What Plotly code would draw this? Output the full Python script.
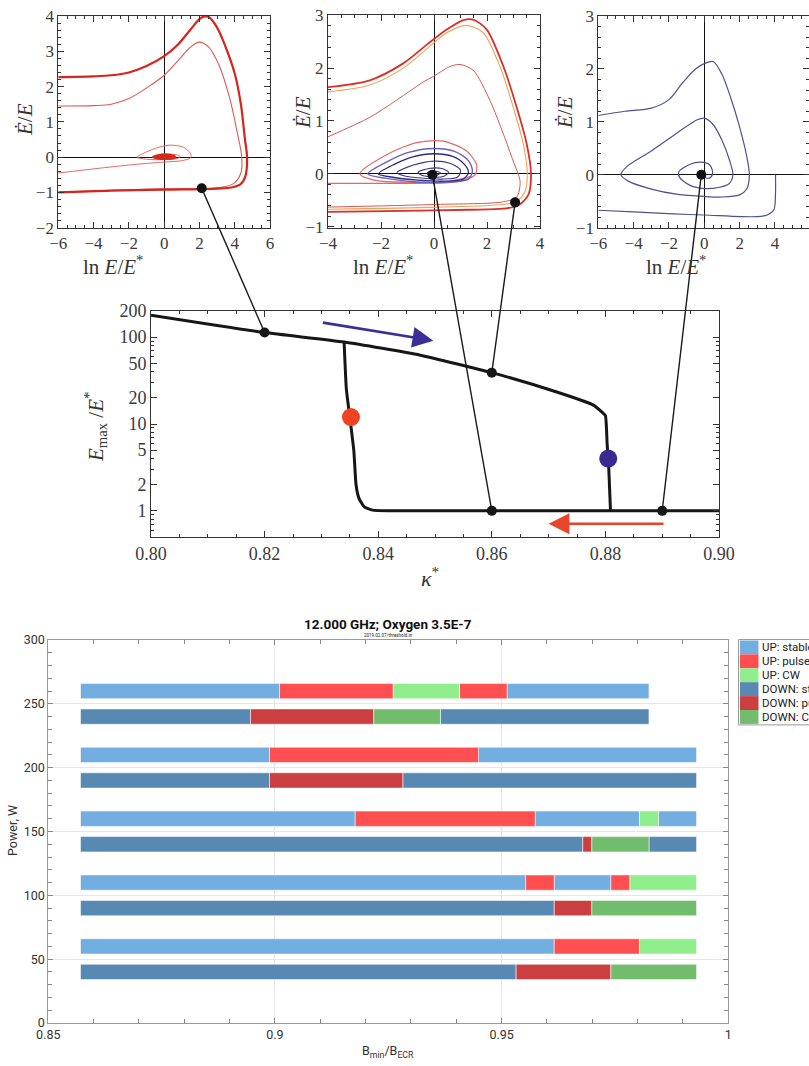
import math
import plotly.graph_objects as go

W, H = 809, 1066

# ---------------- phase portrait 1 (kappa* = 0.82) ----------------
p1_outer_x = [-6, -4, -3, -2, -1, 0, 0.8, 1.5, 2.1, 2.5, 2.98, 3.5, 4.0, 4.35, 4.58, 4.7, 4.6, 4.3, 3.8, 3, 0, -3, -6]
p1_outer_y = [2.27, 2.29, 2.32, 2.4, 2.58, 2.86, 3.2, 3.62, 3.95, 3.98, 3.69, 3.1, 2.37, 1.5, 0.5, 0, -0.55, -0.78, -0.86, -0.89, -0.92, -0.95, -1.0]
p1_mid_x = [-6, -4, -3, -2, -1, 0, 0.9, 1.5, 2.0, 2.5, 3.1, 3.7, 4.15, 4.4, 4.35, 3.93, 2.98, 0, -3, -6]
p1_mid_y = [1.45, 1.46, 1.5, 1.66, 1.96, 2.32, 2.8, 3.12, 3.26, 3.13, 2.62, 1.7, 0.68, 0, -0.45, -0.75, -0.87, -0.9, -0.94, -0.99]
p1_loop_x = [-6, -3.6, -1.5, 0, 1.0, 1.5, 1.5, 1.1, 0.3, -0.5, -1.2, -1.55, -1.0, 0, 0.8, 0.9, 0.5, -0.3, -0.5, 0, 0.4]
p1_loop_y = [-0.45, -0.31, -0.2, -0.14, -0.1, -0.02, 0.1, 0.28, 0.34, 0.25, 0.1, 0.0, -0.06, -0.07, -0.03, 0.03, 0.08, 0.06, 0.0, -0.03, 0.0]
p1_core_x = [-0.65, -0.3, 0.2, 0.6, 0.65, 0.2, -0.3, -0.65]
p1_core_y = [0.0, 0.07, 0.08, 0.03, -0.02, -0.06, -0.05, 0.0]

# ---------------- phase portrait 2 (kappa* = 0.86) ----------------
p2_outer_x = [-4, -2.42, -1.16, -0.28, 0.48, 1.11, 1.48, 1.99, 2.62, 3.12, 3.5, 3.66, 3.56, 3.18, 2.62, 1.36, -1.16, -4]
p2_outer_y = [1.64, 1.77, 2.09, 2.44, 2.73, 2.91, 2.92, 2.73, 2.03, 1.26, 0.56, 0, -0.4, -0.6, -0.66, -0.68, -0.7, -0.72]
p2_second_x = [-4, -2.42, -1.16, -0.28, 0.48, 1.23, 1.86, 2.49, 2.99, 3.37, 3.52, 3.43, 3.12, 2.62, 0.1, -4]
p2_second_y = [1.55, 1.68, 2.0, 2.36, 2.67, 2.81, 2.67, 2.03, 1.26, 0.56, 0, -0.34, -0.52, -0.58, -0.63, -0.67]
p2_third_x = [-4, -2.42, -1.16, -0.4, 0, 0.6, 0.98, 1.48, 2.11, 2.62, 2.99, 3.25, 3.12, 2.62, 0.1, -4]
p2_third_y = [0.70, 1.07, 1.48, 1.74, 1.85, 2.03, 2.07, 1.96, 1.39, 0.75, 0.24, -0.15, -0.44, -0.53, -0.58, -0.63]
p2_redloop_x = [-4, -2.42, -0.53, 0.86, 1.55, 1.61, 1.23, 0.35, -0.65, -1.79, -2.79, -2.16, -1.0, 0.5, 1.4]
p2_redloop_y = [-0.18, -0.18, -0.18, -0.15, -0.02, 0.17, 0.43, 0.62, 0.59, 0.36, 0, -0.13, -0.16, -0.15, -0.05]
p2_l1_x = [-2.5, -1.8, -1.0, 0, 0.8, 1.3, 1.45, 1.3, 0.6, -0.5, -1.6, -2.5]
p2_l1_y = [0, 0.22, 0.4, 0.48, 0.42, 0.25, 0.05, -0.1, -0.16, -0.16, -0.1, 0]
p2_l2_x = [-2.1, -1.5, -0.8, 0, 0.7, 1.15, 1.3, 1.1, 0.4, -0.6, -1.5, -2.1]
p2_l2_y = [0, 0.18, 0.32, 0.38, 0.33, 0.18, 0.02, -0.1, -0.14, -0.12, -0.07, 0]
p2_l3_x = [-1.4, -0.8, 0, 0.6, 1.0, 0.9, 0.3, -0.5, -1.1, -1.4]
p2_l3_y = [0.02, 0.16, 0.24, 0.2, 0.07, -0.06, -0.1, -0.08, -0.04, 0.02]
p2_l4_x = [-0.6, -0.2, 0.3, 0.55, 0.35, -0.1, -0.5, -0.6]
p2_l4_y = [0.03, 0.1, 0.1, 0.03, -0.05, -0.06, -0.02, 0.03]
p2_l5_x = [-0.25, 0, 0.25, 0.1, -0.2, -0.25]
p2_l5_y = [0.02, 0.05, 0.02, -0.03, -0.02, 0.02]

# ---------------- phase portrait 3 (kappa* = 0.89) ----------------
p3_spiral_x = [-6, -4.5, -3, -2, -1.2, -0.5, 0, 0.5, 1.0, 1.5, 2.0, 2.4, 2.55, 2.4, 2.0, 1.0, 0, -1.5, -3, -4.3, -4.72,
               -4.4, -3, -1.5, -0.4, 0, 0.5, 1.0, 1.45, 1.62, 1.4, 0.8, 0, -0.8, -1.4, -1.45, -0.8, -0.2, 0.3, 0.47,
               0.35, 0.1, -0.1]
p3_spiral_y = [1.12, 1.2, 1.26, 1.42, 1.75, 2.0, 2.1, 2.14, 1.9, 1.45, 0.9, 0.35, 0.0, -0.27, -0.38, -0.42, -0.41, -0.37,
               -0.27, -0.12, 0, 0.15, 0.45, 0.8, 1.04, 1.07, 0.95, 0.65, 0.25, 0.0, -0.17, -0.24, -0.26, -0.2, -0.05,
               0.05, 0.2, 0.24, 0.19, 0.05, -0.05, -0.06, 0]
p3_bottom_x = [-6, -4, -1.74, 0, 2.05, 3, 3.56, 3.94, 4.03, 4.03]
p3_bottom_y = [-0.67, -0.7, -0.74, -0.76, -0.79, -0.79, -0.76, -0.66, -0.35, 0]

# ---------------- bifurcation diagram ----------------
upper_k = [0.800, 0.820, 0.834, 0.8474, 0.860, 0.8713, 0.8779, 0.8795, 0.8800, 0.8803, 0.8806, 0.8809]
upper_E = [179, 113, 88, 62, 39, 23.5, 16.5, 13.5, 12.5, 6, 3, 1.0]
lower_k = [0.834, 0.8344, 0.8350, 0.8357, 0.8361, 0.8366, 0.8375, 0.8390, 0.8420, 0.9000]
lower_E = [88, 25, 12, 5, 2, 1.4, 1.12, 1.02, 1.0, 1.0]
dots_k = [0.82, 0.86, 0.86, 0.89]
dots_E = [113, 39, 1, 1]
red_dot = (0.8352, 12)
blue_dot = (0.8805, 4.0)
blue_arrow = [(0.830, 148), (0.8497, 91)]
red_arrow = [(0.8905, 0.71), (0.8700, 0.71)]

# connections: (panel, x, y) -> (kappa, E)
link_panel = ["1", "2", "2", "3"]
link_x = [2.13, -0.06, 3.06, -0.17]
link_y = [-0.88, -0.02, -0.54, 0.0]
link_k = [0.82, 0.86, 0.86, 0.89]
link_E = [113, 1, 39, 1]

# ---------------- threshold bars ----------------
up_power = [260, 210, 160, 110, 60]
down_power = [240, 190, 140, 90, 40]
up_bounds = [
    [0.8571, 0.9010, 0.9261, 0.9407, 0.9512, 0.9825],
    [0.8571, 0.8988, 0.9449, 0.9930],
    [0.8571, 0.9177, 0.9574, 0.9804, 0.9846, 0.9930],
    [0.8571, 0.9553, 0.9616, 0.9741, 0.9783, 0.9930],
    [0.8571, 0.9616, 0.9804, 0.9930],
]
up_states = [
    ["stable", "pulsed", "CW", "pulsed", "stable"],
    ["stable", "pulsed", "stable"],
    ["stable", "pulsed", "stable", "CW", "stable"],
    ["stable", "pulsed", "stable", "pulsed", "CW"],
    ["stable", "pulsed", "CW"],
]
down_bounds = [
    [0.8571, 0.8946, 0.9218, 0.9365, 0.9825],
    [0.8571, 0.8988, 0.9282, 0.9930],
    [0.8571, 0.9679, 0.9699, 0.9825, 0.9930],
    [0.8571, 0.9616, 0.9699, 0.9930],
    [0.8571, 0.9532, 0.9741, 0.9930],
]
down_states = [
    ["stable", "pulsed", "CW", "stable"],
    ["stable", "pulsed", "stable"],
    ["stable", "pulsed", "CW", "stable"],
    ["stable", "pulsed", "CW"],
    ["stable", "pulsed", "CW"],
]
state_names = ["stable", "pulsed", "CW"]
up_colors = {"stable": "#72aee0", "pulsed": "#ff4f51", "CW": "#90ee8c"}
down_colors = {"stable": "#5789b2", "pulsed": "#cc3f41", "CW": "#72bc6e"}

fig = go.Figure()


def line(x, y, ax, color, width, fill=None, smoothing=0.8):
    fig.add_trace(go.Scatter(
        x=x, y=y, mode="lines", xaxis="x" + ax, yaxis="y" + ax,
        line=dict(color=color, width=width, shape="spline", smoothing=smoothing),
        fill=fill, fillcolor=color if fill else None,
        showlegend=False, hoverinfo="skip"))


# panel 1
line(p1_loop_x, p1_loop_y, "", "#e36a62", 1.0)
line(p1_core_x, p1_core_y, "", "#d8281e", 1.5, fill="toself")
line(p1_mid_x, p1_mid_y, "", "#e05a52", 1.1, smoothing=1.0)
line(p1_outer_x, p1_outer_y, "", "#d4261c", 2.2, smoothing=1.0)
fig.add_trace(go.Scatter(x=[link_x[0]], y=[link_y[0]], mode="markers", xaxis="x", yaxis="y",
                         marker=dict(color="#111", size=10), showlegend=False, hoverinfo="skip"))

# panel 2
line(p2_third_x, p2_third_y, "2", "#d25a55", 1.0)
line(p2_second_x, p2_second_y, "2", "#eca35c", 1.1)
line(p2_outer_x, p2_outer_y, "2", "#d8302a", 1.8)
line(p2_redloop_x, p2_redloop_y, "2", "#e06a66", 1.2)
line(p2_l1_x, p2_l1_y, "2", "#6a62b8", 1.4)
line(p2_l2_x, p2_l2_y, "2", "#2c2a80", 1.3)
line(p2_l3_x, p2_l3_y, "2", "#3a3a8a", 1.1)
line(p2_l4_x, p2_l4_y, "2", "#3a3a8a", 1.1)
line(p2_l5_x, p2_l5_y, "2", "#3a3a8a", 1.1)
fig.add_trace(go.Scatter(x=link_x[1:3], y=link_y[1:3], mode="markers", xaxis="x2", yaxis="y2",
                         marker=dict(color="#111", size=10), showlegend=False, hoverinfo="skip"))

# panel 3
line(p3_spiral_x, p3_spiral_y, "3", "#50508e", 1.2)
line(p3_bottom_x, p3_bottom_y, "3", "#50508e", 1.2)
fig.add_trace(go.Scatter(x=[link_x[3]], y=[link_y[3]], mode="markers", xaxis="x3", yaxis="y3",
                         marker=dict(color="#111", size=10), showlegend=False, hoverinfo="skip"))

# bifurcation diagram
for kk, ee in ((upper_k, upper_E), (lower_k, lower_E)):
    fig.add_trace(go.Scatter(x=kk, y=ee, mode="lines", xaxis="x4", yaxis="y4",
                             line=dict(color="#161616", width=3, shape="spline", smoothing=0.5),
                             showlegend=False, hoverinfo="skip"))
fig.add_trace(go.Scatter(x=dots_k, y=dots_E, mode="markers", xaxis="x4", yaxis="y4",
                         marker=dict(color="#161616", size=10), showlegend=False, hoverinfo="skip"))
fig.add_trace(go.Scatter(x=[red_dot[0]], y=[red_dot[1]], mode="markers", xaxis="x4", yaxis="y4",
                         marker=dict(color="#ee4422", size=18), showlegend=False, hoverinfo="skip"))
fig.add_trace(go.Scatter(x=[blue_dot[0]], y=[blue_dot[1]], mode="markers", xaxis="x4", yaxis="y4",
                         marker=dict(color="#3a2a90", size=18), showlegend=False, hoverinfo="skip"))

# bars
for direction, powers, bounds, states, colors in (
        ("UP", up_power, up_bounds, up_states, up_colors),
        ("DOWN", down_power, down_bounds, down_states, down_colors)):
    for st in state_names:
        ys, bases, lens = [], [], []
        for p, b, s in zip(powers, bounds, states):
            for i, name in enumerate(s):
                if name == st:
                    ys.append(p)
                    bases.append(b[i])
                    lens.append(b[i + 1] - b[i])
        fig.add_trace(go.Bar(
            y=ys, x=lens, base=bases, orientation="h", width=12,
            xaxis="x5", yaxis="y5", name=f"{direction}: {st}",
            marker=dict(color=colors[st], line=dict(color="rgba(255,255,255,0.55)", width=1)),
            showlegend=False))


def dx(a, b):
    return [a / W, min(b / W, 1.0)]


def dy(top, bottom):
    return [1 - bottom / H, 1 - top / H]


serif = "Liberation Serif"
sans = "Roboto"


def frame_axis(domain, rng, dtick, mdtick, anchor, size=17):
    return dict(domain=domain, range=rng, anchor=anchor, tick0=0, dtick=dtick,
                ticks="inside", ticklen=6, tickwidth=1, tickcolor="#333",
                showline=True, linecolor="#333", linewidth=1, mirror="ticks",
                showgrid=False, zeroline=True, zerolinecolor="#111", zerolinewidth=1.1,
                minor=dict(ticks="inside", dtick=mdtick, ticklen=3, tickcolor="#333", showgrid=False),
                tickfont=dict(family=serif, size=size, color="#3a3a3a"))


P_TOP, P_BOT = 16.0, 227.7
p3_right = -6 + (W - 598.3) / (212.0 / 12.0)

fig.update_layout(
    width=W, height=H, margin=dict(l=0, r=0, t=0, b=0, autoexpand=False),
    paper_bgcolor="white", plot_bgcolor="white", showlegend=False, barmode="overlay",
    xaxis=frame_axis(dx(58.3, 270.0), [-6, 6], 2, 0.5, "y"),
    yaxis=frame_axis(dy(P_TOP, P_BOT), [-2, 4], 1, 0.2, "x"),
    xaxis2=frame_axis(dx(328.0, 540.0), [-4, 4], 2, 0.5, "y2"),
    yaxis2=frame_axis(dy(15.3, P_BOT), [-1.02, 3], 1, 0.2, "x2"),
    xaxis3=frame_axis(dx(598.3, 810.0), [-6, p3_right], 2, 0.5, "y3"),
    yaxis3=frame_axis(dy(P_TOP, P_BOT), [-1, 3], 1, 0.2, "x3"),
)

fig.layout.xaxis4 = dict(
    domain=dx(151, 719), range=[0.80, 0.90], anchor="y4", tick0=0.8, dtick=0.02, tickformat=".2f",
    ticks="inside", ticklen=6, tickcolor="#333", showline=True, linecolor="#333", mirror="ticks",
    showgrid=False, zeroline=False,
    minor=dict(ticks="inside", dtick=0.005, ticklen=3, tickcolor="#333", showgrid=False),
    tickfont=dict(family=serif, size=18, color="#3a3a3a"))
fig.layout.yaxis4 = dict(
    domain=dy(311, 537), type="log", range=[math.log10(0.5), math.log10(200)], anchor="x4",
    tickmode="array", tickvals=[1, 2, 5, 10, 20, 50, 100, 200],
    ticktext=["1", "2", "5", "10", "20", "50", "100", "200"],
    ticks="inside", ticklen=6, tickcolor="#333", showline=True, linecolor="#333", mirror="ticks",
    showgrid=False, zeroline=False,
    minor=dict(ticks="inside", tickmode="array",
               tickvals=[0.6, 0.7, 0.8, 0.9, 3, 4, 6, 7, 8, 9, 30, 40, 60, 70, 80, 90],
               ticklen=3, tickcolor="#333", showgrid=False),
    tickfont=dict(family=serif, size=18, color="#3a3a3a"))

fig.layout.xaxis5 = dict(
    domain=dx(48.3, 728.3), range=[0.85, 1.0], anchor="y5",
    tickmode="array", tickvals=[0.85, 0.9, 0.95, 1.0], ticktext=["0.85", "0.9", "0.95", "1"],
    ticks="inside", ticklen=5, tickcolor="#888", showline=True, linecolor="#999", mirror="ticks",
    showgrid=True, gridcolor="#e6e6e6", zeroline=False,
    minor=dict(ticks="inside", dtick=0.01, tick0=0.85, ticklen=4, tickcolor="#888", showgrid=False),
    tickfont=dict(family=sans, size=12.5, color="#333"))
fig.layout.yaxis5 = dict(
    domain=dy(640, 1023), range=[0, 300], anchor="x5", dtick=50,
    ticks="inside", ticklen=5, tickcolor="#888", showline=True, linecolor="#999", mirror="ticks",
    showgrid=True, gridcolor="#e6e6e6", zeroline=False,
    minor=dict(ticks="inside", dtick=10, ticklen=4, tickcolor="#888", showgrid=False),
    tickfont=dict(family=sans, size=12.5, color="#333"))


def to_paper(ax, x, y):
    xa = fig.layout["xaxis" + ax]
    ya = fig.layout["yaxis" + ax]
    if ya.type == "log":
        y = math.log10(y)
    px = xa.domain[0] + (x - xa.range[0]) / (xa.range[1] - xa.range[0]) * (xa.domain[1] - xa.domain[0])
    py = ya.domain[0] + (y - ya.range[0]) / (ya.range[1] - ya.range[0]) * (ya.domain[1] - ya.domain[0])
    return px, py


shapes = []
for pan, x0, y0, k1, e1 in zip(link_panel, link_x, link_y, link_k, link_E):
    a = to_paper("" if pan == "1" else pan, x0, y0)
    b = to_paper("4", k1, e1)
    shapes.append(dict(type="line", xref="paper", yref="paper", x0=a[0], y0=a[1], x1=b[0], y1=b[1],
                       line=dict(color="#1a1a1a", width=1.4), layer="above"))

annotations = []


def ann(text, px, py, size, family=serif, color="#333", angle=0, xanchor="center"):
    annotations.append(dict(text=text, x=px / W, y=1 - py / H, xref="paper", yref="paper",
                            showarrow=False, textangle=angle, xanchor=xanchor, yanchor="middle",
                            font=dict(family=family, size=size, color=color)))


xt = "ln <i>E</i>/<i>E</i><sup>*</sup>"
yt = "<i>E\u0307</i>/<i>E</i>"
for cx, cy in ((113, 266), (383, 266), (676, 266)):
    ann(xt, cx, cy, 21)
for cx, cy in ((25, 120), (303, 113), (565, 113)):
    ann(yt, cx, cy, 21, angle=-90)
ann("<i>κ</i><sup>*</sup>", 430, 577, 22)
ann("<i>E</i><sub>max</sub> /<i>E</i><sup>*</sup>", 95, 427, 21, angle=-90)

ann("<b>12.000 GHz; Oxygen 3.5E-7</b>", 388, 623.5, 13.5, family=sans, color="#111")
ann("2019.02.07/threshold.in", 388, 635, 4.5, family=sans, color="#222")
ann("Power, W", 12, 831, 12.5, family=sans, color="#333", angle=-90)
ann("B<sub>min</sub>/B<sub>ECR</sub>", 388, 1051, 12.5, family=sans, color="#333")

# arrows in the bifurcation diagram
for (t, h), col in ((blue_arrow, "#3b2f96"), (red_arrow, "#e8452a")):
    annotations.append(dict(x=h[0], y=math.log10(h[1]), ax=t[0], ay=math.log10(t[1]),
                            xref="x4", yref="y4", axref="x4", ayref="y4", text="",
                            showarrow=True, arrowhead=2, arrowsize=1.6, arrowwidth=2.6, arrowcolor=col))

# legend box for the bars (drawn from the trace names/colours)
leg_top, row_h, leg_left = 640.5, 13.9, 738.5
legend_items = [("UP: " + s, up_colors[s]) for s in state_names] + [("DOWN: " + s, down_colors[s]) for s in state_names]
shapes.append(dict(type="rect", xref="paper", yref="paper", x0=leg_left / W, x1=1.02,
                   y0=1 - (leg_top + row_h * 6 + 1) / H, y1=1 - (leg_top - 1) / H,
                   line=dict(color="#9a9a9a", width=1), fillcolor="white", layer="above"))
for i, (name, col) in enumerate(legend_items):
    top = leg_top + i * row_h
    shapes.append(dict(type="rect", xref="paper", yref="paper", x0=(leg_left + 1.5) / W, x1=(leg_left + 20) / W,
                       y0=1 - (top + row_h) / H, y1=1 - top / H, line=dict(width=0), fillcolor=col, layer="above"))
    ann(name, leg_left + 21.5, top + row_h / 2, 11.5, family=sans, color="#222", xanchor="left")

fig.update_layout(shapes=shapes, annotations=annotations)
fig.write_html(
    "out.html",
    config={"displayModeBar": False},
    post_script="document.body.style.margin='0';document.body.style.padding='0';"
                "document.body.style.overflow='hidden';",
)
